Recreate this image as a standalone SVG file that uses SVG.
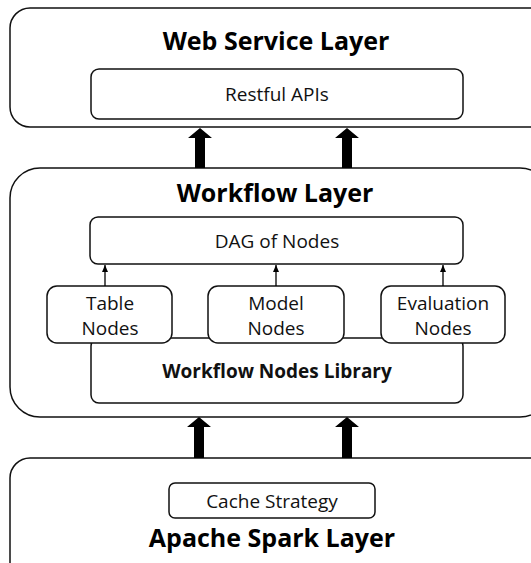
<svg xmlns="http://www.w3.org/2000/svg" width="531" height="563" viewBox="0 0 531 563">
<style>
.layer{fill:#fff;stroke:#111;stroke-width:1.5}
.box{fill:#fff;stroke:#111;stroke-width:1.5}
.title{font-family:"Open Sans","Noto Sans",sans-serif;font-weight:bold;font-size:25px;fill:#000;text-anchor:middle}
.lbl{font-family:"Open Sans","Noto Sans",sans-serif;font-size:19px;fill:#111;text-anchor:middle}
.blbl{font-family:"Open Sans","Noto Sans",sans-serif;font-weight:bold;font-size:19px;fill:#111;text-anchor:middle}
.big{fill:#000}
.thin{stroke:#000;stroke-width:1.3;fill:none}
</style>
<defs>
<marker id="ah" viewBox="0 0 7 6" refX="7" refY="3" markerWidth="7" markerHeight="6" markerUnits="userSpaceOnUse" orient="auto">
<path d="M0,0 L7,3 L0,6 Z" fill="#000"/>
</marker>
</defs>
<g id="web-layer">
<rect class="layer" x="10" y="8" width="540" height="119" rx="20"/>
<text class="title" x="276" y="50">Web Service Layer</text>
</g>
<g id="restful-apis">
<rect class="box" x="91" y="69" width="372" height="50" rx="8"/>
<text class="lbl" x="277" y="101">Restful APIs</text>
</g>
<g id="workflow-layer">
<rect class="layer" x="10" y="168" width="540" height="249" rx="30"/>
<text class="title" x="275" y="202">Workflow Layer</text>
</g>
<g id="dag">
<rect class="box" x="90" y="217" width="373" height="47" rx="8"/>
<text class="lbl" x="277" y="248">DAG of Nodes</text>
</g>
<g id="library">
<rect class="box" x="91" y="338" width="372" height="65" rx="8"/>
<text class="blbl" x="277" y="378">Workflow Nodes Library</text>
</g>
<g id="table-nodes">
<rect class="box" x="47" y="286" width="125" height="57" rx="10"/>
<text class="lbl" x="110" y="310">Table</text>
<text class="lbl" x="110" y="335">Nodes</text>
</g>
<g id="model-nodes">
<rect class="box" x="208" y="286" width="136" height="57" rx="10"/>
<text class="lbl" x="276" y="310">Model</text>
<text class="lbl" x="276" y="335">Nodes</text>
</g>
<g id="evaluation-nodes">
<rect class="box" x="381" y="286" width="124" height="57" rx="10"/>
<text class="lbl" x="443" y="310">Evaluation</text>
<text class="lbl" x="443" y="335">Nodes</text>
</g>
<g id="spark-layer">
<rect class="layer" x="10" y="458" width="540" height="130" rx="20"/>
<text class="title" x="272" y="547">Apache Spark Layer</text>
</g>
<g id="cache-strategy">
<rect class="box" x="169" y="483" width="206" height="35" rx="6"/>
<text class="lbl" x="272" y="508">Cache Strategy</text>
</g>
<g id="connectors">
<path class="big" d="M200,128 L212,138 L205,138 L205,168 L195,168 L195,138 L188,138 Z"/>
<path class="big" d="M347,128 L359,138 L352,138 L352,168 L342,168 L342,138 L335,138 Z"/>
<path class="big" d="M199,417 L211,427 L204,427 L204,458 L194,458 L194,427 L187,427 Z"/>
<path class="big" d="M347,417 L359,427 L352,427 L352,458 L342,458 L342,427 L335,427 Z"/>
<line class="thin" x1="105" y1="286" x2="105" y2="265" marker-end="url(#ah)"/>
<line class="thin" x1="276" y1="286" x2="276" y2="265" marker-end="url(#ah)"/>
<line class="thin" x1="443" y1="286" x2="443" y2="265" marker-end="url(#ah)"/>
</g>
</svg>
